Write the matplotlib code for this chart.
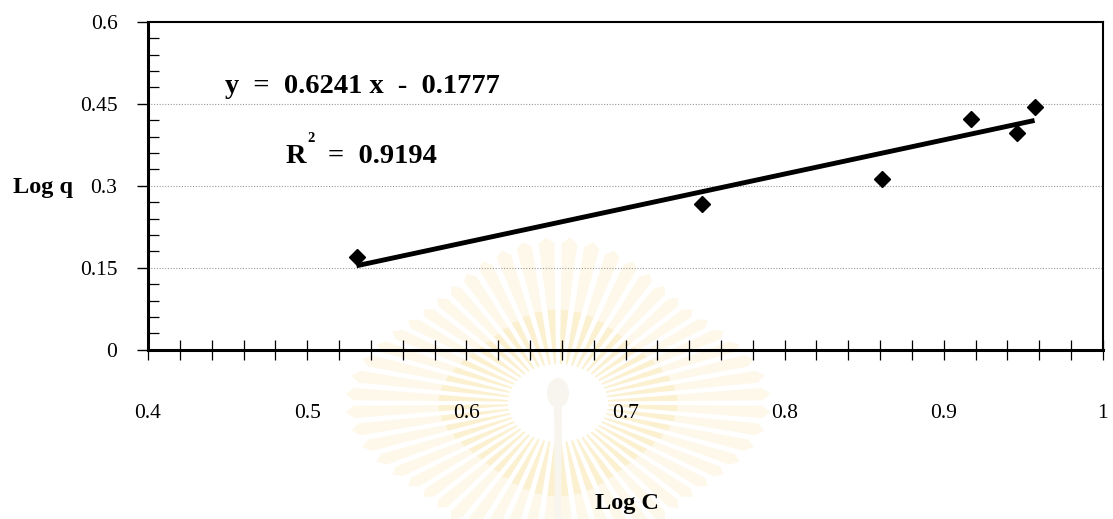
import matplotlib.pyplot as plt
import numpy as np
from matplotlib.patches import Polygon, Ellipse
from matplotlib.transforms import IdentityTransform

plt.rcParams['font.family'] = ['Liberation Serif', 'DejaVu Serif']

# Freundlich isotherm data (log-log)
log_c = [0.531, 0.748, 0.861, 0.917, 0.946, 0.957]
log_q = [0.170, 0.267, 0.312, 0.422, 0.397, 0.445]

slope = 0.6241
intercept = -0.1777
r_squared = 0.9194

x_ticks = [0.4, 0.5, 0.6, 0.7, 0.8, 0.9, 1.0]
x_tick_labels = ['0.4', '0.5', '0.6', '0.7', '0.8', '0.9', '1']
y_ticks = [0, 0.15, 0.3, 0.45, 0.6]
y_tick_labels = ['0', '0.15', '0.3', '0.45', '0.6']

fig = plt.figure(figsize=(11.13, 5.19), dpi=100)
ax = fig.add_axes([0.133, 0.326, 0.858, 0.632])
ax.patch.set_alpha(0)


def sunburst(fig, cx, cy, n=56, r0=50, r1=205, ky=0.78):
    # faint sunburst emblem sitting behind the chart (pixel coords)
    tr = IdentityTransform()
    for i in range(n):
        th = 2 * np.pi * (i + 0.5) / n
        a0, a1 = np.radians(1.0), np.radians(2.2)
        rr = r1 * (0.92 + 0.08 * np.cos(4 * th))
        outer = [(cx + r0 * np.cos(th - a0), cy + ky * r0 * np.sin(th - a0)),
                 (cx + rr * np.cos(th - a1), cy + ky * rr * np.sin(th - a1)),
                 (cx + (rr + 8) * np.cos(th), cy + ky * (rr + 8) * np.sin(th)),
                 (cx + rr * np.cos(th + a1), cy + ky * rr * np.sin(th + a1)),
                 (cx + r0 * np.cos(th + a0), cy + ky * r0 * np.sin(th + a0))]
        fig.add_artist(Polygon(outer, closed=True, transform=tr, fc='#fdf8e9',
                               ec='none', zorder=-2))
        rm = r0 + 0.45 * (rr - r0)
        inner = [(cx + r0 * np.cos(th - a0), cy + ky * r0 * np.sin(th - a0)),
                 (cx + rm * np.cos(th - 1.8 * a0), cy + ky * rm * np.sin(th - 1.8 * a0)),
                 (cx + rm * np.cos(th + 1.8 * a0), cy + ky * rm * np.sin(th + 1.8 * a0)),
                 (cx + r0 * np.cos(th + a0), cy + ky * r0 * np.sin(th + a0))]
        fig.add_artist(Polygon(inner, closed=True, transform=tr, fc='#fbf0d0',
                               ec='none', zorder=-2))
    fig.add_artist(Ellipse((cx, cy + 10), 22, 30, transform=tr, fc='#f8f5ee',
                           ec='none', zorder=-1))
    fig.add_artist(Polygon([(cx - 4, cy - 2), (cx + 4, cy - 2), (cx + 3, 0), (cx - 3, 0)],
                           closed=True, transform=tr, fc='#f8f5ee', ec='none', zorder=-1))


sunburst(fig, 558, 116)

# grid only on the inner major levels
for yv in y_ticks[1:-1]:
    ax.axhline(yv, color='#9a9a9a', lw=0.8, ls=(0, (1, 1.5)), zorder=1)

ax.plot(log_c, log_q, ls='none', marker='D', ms=8.5, color='black', zorder=4)

fit_x = np.array([min(log_c), max(log_c)])
ax.plot(fit_x, slope * fit_x + intercept, color='black', lw=3.5,
        solid_capstyle='butt', zorder=3)

ax.set_xlim(0.4, 1.0)
ax.set_ylim(0, 0.6)

# axes frame
for side in ['left', 'bottom']:
    ax.spines[side].set_linewidth(2.2)
for side in ['top', 'right']:
    ax.spines[side].set_linewidth(1.5)

# x: small crossing ticks every 0.02, labels well below the axis
ax.set_xticks(np.arange(0.4, 1.0001, 0.02))
ax.set_xticklabels([])
ax.tick_params(axis='x', direction='inout', length=14, width=0.9)
for xv, lab in zip(x_ticks, x_tick_labels):
    ax.text(xv, -0.117, lab, ha='center', va='center', fontsize=15.5)

# y: major ticks outward, minor ticks inside
ax.set_yticks(y_ticks)
ax.set_yticklabels(y_tick_labels, fontsize=15.5)
ax.set_yticks(np.arange(0, 0.6001, 0.03), minor=True)
ax.tick_params(axis='y', which='major', direction='out', length=8, width=1.0, pad=14)
ax.tick_params(axis='y', which='minor', direction='in', length=8, width=0.9)

fig.text(0.012, 0.628, 'Log q', ha='left', va='baseline', fontsize=17.5, fontweight='bold')
fig.text(0.535, 0.019, 'Log C', ha='left', va='baseline', fontsize=17.5, fontweight='bold')

ax.text(0.4484, 0.470, 'y  =  0.6241 x  -  0.1777', ha='left', va='baseline',
        fontsize=20.5, fontweight='bold')
ax.text(0.4867, 0.342, 'R', ha='left', va='baseline', fontsize=20.5, fontweight='bold')
ax.text(0.4999, 0.381, '2', ha='left', va='baseline', fontsize=10.5, fontweight='bold')
ax.text(0.513, 0.342, f'=  {r_squared:.4f}', ha='left', va='baseline',
        fontsize=20.5, fontweight='bold')

fig.savefig('out.png', dpi=100)
